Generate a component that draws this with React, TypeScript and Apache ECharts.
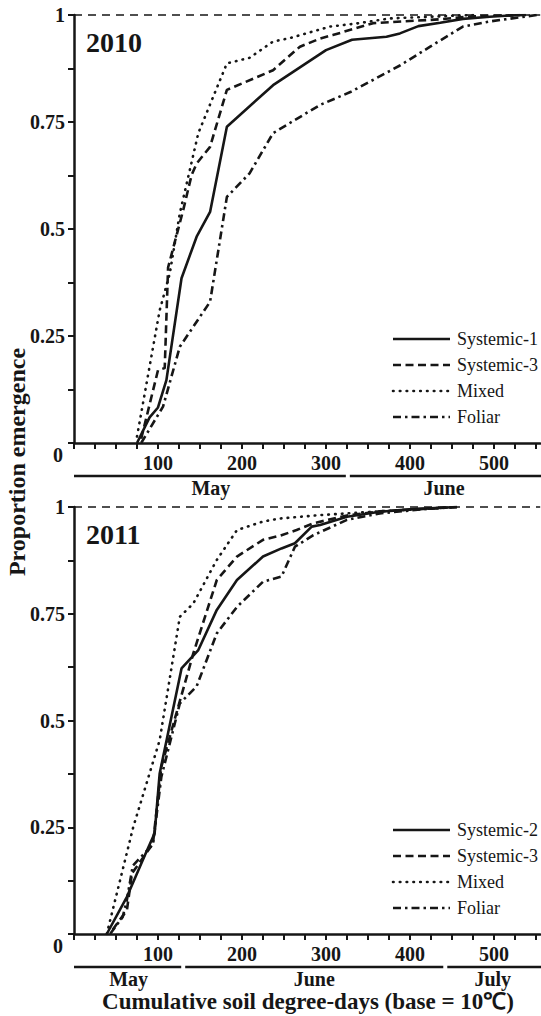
import React, { useEffect, useRef } from 'react';
import * as echarts from 'echarts';

// ---- 2010 panel data: [cumulative soil degree-days, proportion emerged] ----
const systemic1_2010 = [
  [75, 0], [90, 0.06], [100, 0.083], [110, 0.147], [128, 0.385], [146, 0.482], [162, 0.54],
  [182, 0.739], [237, 0.836], [300, 0.918], [331, 0.942], [372, 0.949], [388, 0.957],
  [410, 0.974], [436, 0.982], [463, 0.991], [495, 0.996], [531, 1.0],
];
const systemic3_2010 = [
  [80, 0.01], [100, 0.17], [108, 0.175], [112, 0.41], [130, 0.544], [140, 0.626], [146, 0.653],
  [162, 0.692], [182, 0.825], [237, 0.871], [269, 0.926], [293, 0.945], [308, 0.953],
  [356, 0.981], [436, 0.99], [475, 0.997], [540, 1.0],
];
const mixed_2010 = [
  [75, 0.015], [102, 0.31], [114, 0.396], [126, 0.537], [148, 0.724], [182, 0.887],
  [209, 0.9], [237, 0.938], [257, 0.946], [305, 0.973], [336, 0.98], [376, 0.992],
  [436, 0.997], [475, 1.0],
];
const foliar_2010 = [
  [80, 0], [106, 0.085], [126, 0.225], [162, 0.33], [182, 0.575], [209, 0.63], [237, 0.724],
  [293, 0.79], [329, 0.82], [388, 0.882], [424, 0.926], [463, 0.973], [495, 0.985], [551, 1.0],
];

// ---- 2011 panel data ----
const systemic2_2011 = [
  [39, 0], [63, 0.087], [84.5, 0.185], [96, 0.236], [102, 0.376], [128, 0.622], [148, 0.665],
  [170, 0.759], [194, 0.829], [225, 0.884], [247, 0.903], [263, 0.915], [283, 0.954],
  [293, 0.958], [325, 0.977], [364, 0.989], [404, 0.995], [456, 1.0],
];
const systemic3_2011 = [
  [46, 0.01], [63, 0.056], [69, 0.142], [94, 0.212], [104, 0.392], [142, 0.657], [170, 0.829],
  [194, 0.884], [225, 0.923], [247, 0.934], [265, 0.946], [285, 0.962], [325, 0.98],
  [364, 0.99], [456, 1.0],
];
const mixed_2011 = [
  [39, 0], [70.6, 0.251], [102, 0.454], [126, 0.743], [142, 0.774], [170, 0.876],
  [194, 0.946], [225, 0.966], [245, 0.973], [293, 0.981], [364, 0.99], [456, 1.0],
];
const foliar_2011 = [
  [43, 0], [58, 0.04], [63, 0.08], [70, 0.16], [94, 0.21], [104, 0.368], [126, 0.54],
  [146, 0.58], [170, 0.704], [194, 0.766], [225, 0.825], [247, 0.837], [263, 0.907],
  [285, 0.934], [325, 0.97], [364, 0.985], [423, 0.996], [456, 1.0],
];

// ---- axes / labels ----
const xTickValues = [0, 25, 50, 75, 100, 125, 150, 175, 200, 225, 250, 275, 300, 325, 350,
  375, 400, 425, 450, 475, 500, 525, 550];
const xLabelValues = [100, 200, 300, 400, 500];
const X_MAX = 555;
const legend2010 = ['Systemic-1', 'Systemic-3', 'Mixed', 'Foliar'];
const legend2011 = ['Systemic-2', 'Systemic-3', 'Mixed', 'Foliar'];
const months2010 = ['May', 'June'];
const monthBounds2010 = [0, 326, 555];
const months2011 = ['May', 'June', 'July'];
const monthBounds2011 = [0, 130, 442, 555];
const years = ['2010', '2011'];
const xTitle = 'Cumulative soil degree-days (base = 10℃)';
const yTitle = 'Proportion emergence';

const FONT = 'Liberation Serif, Times New Roman, serif';
const INK = '#161616';

type Sty = { dash: any; cap: 'butt' | 'round' };
const STYLES: Sty[] = [
  { dash: 'solid', cap: 'butt' },
  { dash: [8, 4.5], cap: 'butt' },
  { dash: [0.6, 6.2], cap: 'round' },
  { dash: [8, 4, 2.5, 4], cap: 'butt' },
];
const LW = 2.6;

export default function App() {
  const ref = useRef<HTMLDivElement>(null);

  useEffect(() => {
    document.body.style.margin = '0';
    const chart = echarts.init(ref.current!, undefined, { renderer: 'svg' });

    const mkX = (gi: number) => ({
      type: 'value',
      gridIndex: gi,
      min: 0,
      max: X_MAX,
      axisLine: { show: true, lineStyle: { color: INK, width: 2.5 } },
      axisTick: { show: true, customValues: xTickValues, length: 6, lineStyle: { color: INK, width: 2 } },
      axisLabel: {
        show: true,
        customValues: xLabelValues,
        margin: 10,
        fontFamily: FONT,
        fontWeight: 'bold',
        fontSize: 20,
        color: INK,
      },
      splitLine: { show: false },
    });
    const mkY = (gi: number) => ({
      type: 'value',
      gridIndex: gi,
      min: 0,
      max: 1,
      interval: 0.25,
      axisLine: { show: true, lineStyle: { color: INK, width: 2.5 } },
      axisTick: { show: true, length: 6, lineStyle: { color: INK, width: 2 } },
      minorTick: { show: true, splitNumber: 2, length: 6, lineStyle: { color: INK, width: 2 } },
      axisLabel: {
        margin: 9,
        fontFamily: FONT,
        fontWeight: 'bold',
        fontSize: 20,
        color: INK,
        formatter: (v: number) => (v === 0 ? '' : String(v)),
      },
      splitLine: { show: false },
      minorSplitLine: { show: false },
    });

    const mkSeries = (name: string, data: number[][], si: number, gi: number, withMark = false) => ({
      type: 'line',
      name,
      data,
      xAxisIndex: gi,
      yAxisIndex: gi,
      symbol: 'none',
      silent: true,
      lineStyle: { color: INK, width: LW, type: STYLES[si].dash, cap: STYLES[si].cap },
      itemStyle: { color: INK },
      markLine: withMark
        ? {
            silent: true,
            symbol: ['none', 'none'],
            label: { show: false },
            lineStyle: { color: INK, width: 1.6, type: [8, 6] },
            data: [{ yAxis: 1 }],
          }
        : undefined,
      z: 3,
    });

    const option: any = {
      animation: false,
      backgroundColor: '#ffffff',
      grid: [
        { left: 74, top: 15, width: 466.2, height: 428 },
        { left: 74, top: 507, width: 466.2, height: 427 },
      ],
      xAxis: [mkX(0), mkX(1)],
      yAxis: [mkY(0), mkY(1)],
      series: [
        mkSeries(legend2010[0], systemic1_2010, 0, 0, true),
        mkSeries(legend2010[1], systemic3_2010, 1, 0),
        mkSeries(legend2010[2], mixed_2010, 2, 0),
        mkSeries(legend2010[3], foliar_2010, 3, 0),
        mkSeries(legend2011[0], systemic2_2011, 0, 1, true),
        mkSeries(legend2011[1], systemic3_2011, 1, 1),
        mkSeries(legend2011[2], mixed_2011, 2, 1),
        mkSeries(legend2011[3], foliar_2011, 3, 1),
      ],
    };
    chart.setOption(option);

    const graphics: any[] = [];
    const panels = [
      { gi: 0, months: months2010, bounds: monthBounds2010, legend: legend2010 },
      { gi: 1, months: months2011, bounds: monthBounds2011, legend: legend2011 },
    ];
    panels.forEach(({ gi, months, bounds, legend }) => {
      const origin = chart.convertToPixel({ gridIndex: gi }, [0, 0]) as number[];
      const top = chart.convertToPixel({ gridIndex: gi }, [0, 1]) as number[];
      const lineY = origin[1] + 33;
      const labelY = origin[1] + 45;
      months.forEach((m, i) => {
        const x1 = chart.convertToPixel({ xAxisIndex: gi }, bounds[i]) as number;
        const x2 = chart.convertToPixel({ xAxisIndex: gi }, bounds[i + 1]) as number;
        const a = i === 0 ? x1 : x1 + 2;
        const b = i === months.length - 1 ? x2 + 1 : x2 - 2;
        graphics.push({
          type: 'line',
          shape: { x1: a, y1: lineY, x2: b, y2: lineY },
          style: { stroke: INK, lineWidth: 2.5 },
          silent: true,
        });
        graphics.push({
          type: 'text',
          x: (x1 + x2) / 2,
          y: labelY,
          style: {
            text: m,
            font: `bold 20px ${FONT}`,
            fill: INK,
            textAlign: 'center',
            textVerticalAlign: 'middle',
          },
          silent: true,
        });
      });
      // origin "0"
      graphics.push({
        type: 'text',
        x: origin[0] - 16,
        y: origin[1] + 12,
        style: { text: '0', font: `bold 20px ${FONT}`, fill: INK, textAlign: 'center', textVerticalAlign: 'middle' },
        silent: true,
      });
      // year label
      graphics.push({
        type: 'text',
        x: origin[0] + 12,
        y: top[1] + 27,
        style: { text: years[gi], font: `bold 28px ${FONT}`, fill: INK, textAlign: 'left', textVerticalAlign: 'middle' },
        silent: true,
      });
      // legend (drawn manually)
      const legTop = origin[1] - 104;
      legend.forEach((name, i) => {
        const y = legTop + i * 26;
        const st = STYLES[i];
        graphics.push({
          type: 'line',
          shape: { x1: 393, y1: y, x2: 450, y2: y },
          style: {
            stroke: INK,
            lineWidth: LW,
            lineDash: st.dash === 'solid' ? null : st.dash,
            lineCap: st.cap,
          },
          silent: true,
        });
        graphics.push({
          type: 'text',
          x: 457,
          y,
          style: { text: name, font: `18px ${FONT}`, fill: INK, textAlign: 'left', textVerticalAlign: 'middle' },
          silent: true,
        });
      });
    });
    graphics.push({
      type: 'text',
      x: 308,
      y: 1001,
      style: { text: xTitle, font: `bold 23px ${FONT}`, fill: INK, textAlign: 'center', textVerticalAlign: 'middle' },
      silent: true,
    });
    graphics.push({
      type: 'text',
      x: 17,
      y: 462,
      rotation: Math.PI / 2,
      style: { text: yTitle, font: `bold 24px ${FONT}`, fill: INK, textAlign: 'center', textVerticalAlign: 'middle' },
      silent: true,
    });
    chart.setOption({ graphic: graphics });

    return () => chart.dispose();
  }, []);

  return <div ref={ref} style={{ width: 541, height: 1016 }} />;
}
